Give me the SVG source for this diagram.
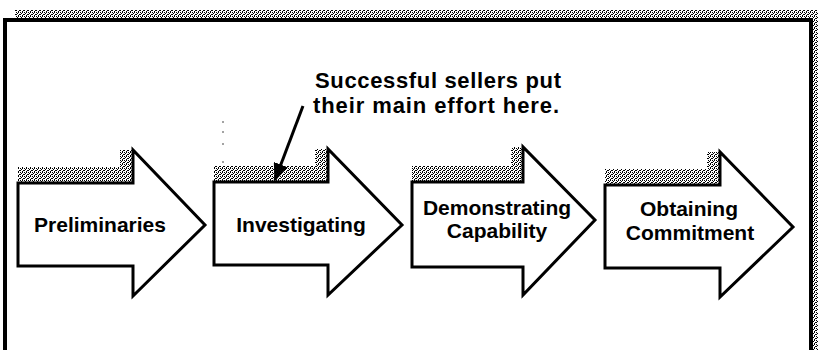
<svg xmlns="http://www.w3.org/2000/svg" width="818" height="350" viewBox="0 0 818 350">
  <defs>
    <pattern id="hatch" width="4" height="4" patternUnits="userSpaceOnUse">
      <rect width="4" height="4" fill="#fff"/>
      <rect x="0" y="0" width="1" height="1" fill="#000"/>
      <rect x="2" y="0" width="1" height="1" fill="#000"/>
      <rect x="1" y="1" width="1" height="1" fill="#000"/>
      <rect x="3" y="2" width="1" height="1" fill="#000"/>
      <rect x="0" y="2" width="1" height="1" fill="#000"/>
      <rect x="2" y="3" width="1" height="1" fill="#000"/>
    </pattern>
    <marker id="head" markerWidth="6" markerHeight="5" refX="5.5" refY="2.5" orient="auto" markerUnits="strokeWidth">
      <path d="M0,0 L6,2.5 L0,5 Z" fill="#000"/>
    </marker>
  </defs>
  <style>
    .shadow { fill: url(#hatch); stroke: none; }
    .arrow { fill: #fff; stroke: #000; stroke-width: 3; stroke-linejoin: miter; }
    .lbl { font-family: "Liberation Sans", Arial, sans-serif; font-weight: bold; font-size: 21px; fill: #000; text-anchor: middle; }
    .note { font-family: "Liberation Sans", Arial, sans-serif; font-weight: bold; font-size: 22px; fill: #000; }
    .frame { fill: none; stroke: #000; stroke-width: 4; }
  </style>
  <rect width="818" height="350" fill="#fff"/>

  <g id="frame">
    <rect x="15" y="10" width="803" height="8" class="shadow"/>
    <rect x="813" y="10" width="5" height="340" class="shadow"/>
    <path d="M5,352 L5,20 L811,20 L811,352" class="frame"/>
  </g>

  <g id="preliminaries">
    <polygon class="shadow" points="18,167 120,167 120,150 133,150 133,183 18,183"/>
    <polygon class="arrow" points="18,183 133,183 133,150 205,225 133,296 133,266 18,266"/>
    <text class="lbl" x="100" y="232">Preliminaries</text>
  </g>

  <g id="investigating">
    <polygon class="shadow" points="214,166 315,166 315,149 328,149 328,182 214,182"/>
    <polygon class="arrow" points="214,182 328,182 328,149 402,225 328,295 328,265 214,265"/>
    <text class="lbl" x="301" y="232">Investigating</text>
  </g>

  <g id="demonstrating">
    <polygon class="shadow" points="412,166 511,166 511,147 523,147 523,182 412,182"/>
    <polygon class="arrow" points="412,182 523,182 523,147 595,220 523,295 523,267 412,267"/>
    <text class="lbl" x="497" y="215">Demonstrating</text>
    <text class="lbl" x="497" y="238">Capability</text>
  </g>

  <g id="obtaining">
    <polygon class="shadow" points="605,169 707,169 707,152 720,152 720,185 605,185"/>
    <polygon class="arrow" points="605,185 720,185 720,152 793,227 720,297 720,268 605,268"/>
    <text class="lbl" x="689" y="216">Obtaining</text>
    <text class="lbl" x="690" y="240">Commitment</text>
  </g>

  <g id="callout">
    <text class="note" x="315" y="88" textLength="246" lengthAdjust="spacing">Successful sellers put</text>
    <text class="note" x="313" y="113" textLength="246" lengthAdjust="spacing">their main effort here.</text>
  </g>

  <g id="connectors">
    <line x1="303" y1="106" x2="275" y2="180" stroke="#000" stroke-width="3" marker-end="url(#head)"/>
  </g>

  <g id="specks" fill="#000">
    <circle cx="223" cy="122" r="0.7"/>
    <circle cx="223" cy="132" r="0.7"/>
    <circle cx="223" cy="144" r="0.7"/>
    <circle cx="223" cy="162" r="0.7"/>
  </g>
</svg>
